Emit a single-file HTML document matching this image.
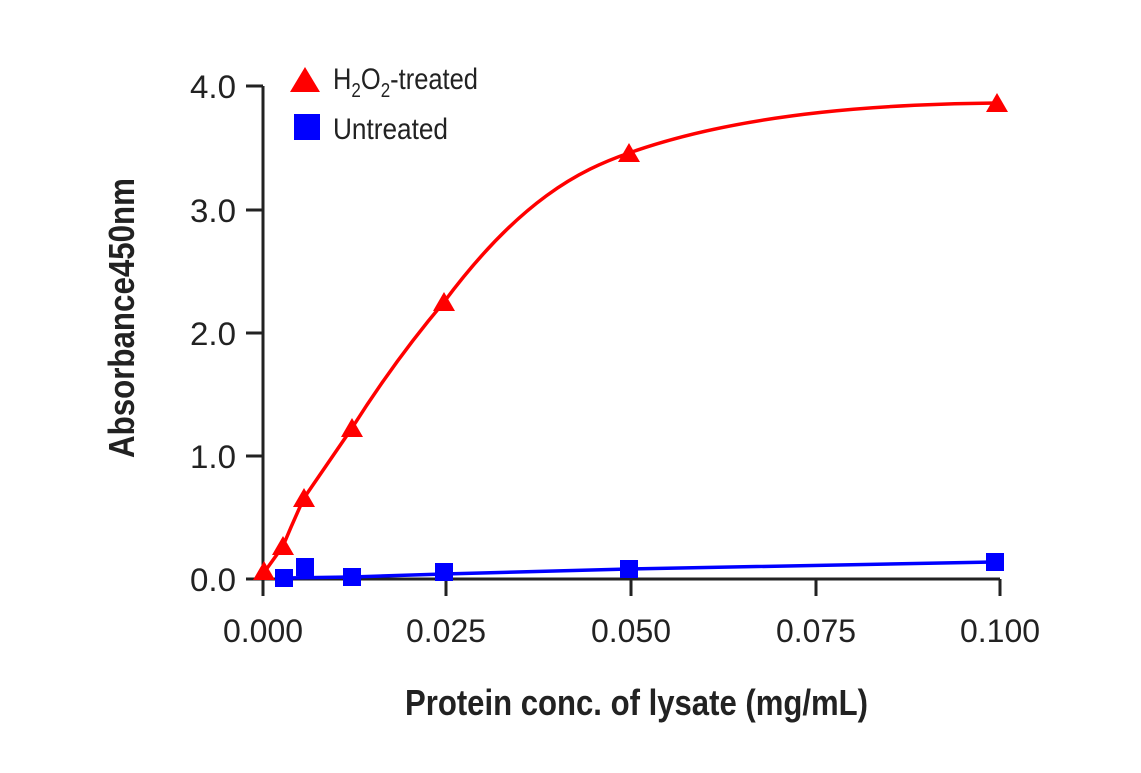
<!DOCTYPE html>
<html><head><style>
body{margin:0;background:#fff;}
svg text{font-family:"Liberation Sans",sans-serif;fill:#222;}
</style></head><body>
<svg width="1141" height="768" viewBox="0 0 1141 768" xmlns="http://www.w3.org/2000/svg">
<g stroke="#222" stroke-width="3" fill="none">
<line x1="263" y1="86" x2="263" y2="596"/>
<line x1="246" y1="579" x2="1000" y2="579"/>
<line x1="246" y1="86" x2="263" y2="86"/>
<line x1="246" y1="210" x2="263" y2="210"/>
<line x1="246" y1="333" x2="263" y2="333"/>
<line x1="246" y1="456" x2="263" y2="456"/>
<line x1="446" y1="579" x2="446" y2="596"/>
<line x1="631" y1="579" x2="631" y2="596"/>
<line x1="816" y1="579" x2="816" y2="596"/>
<line x1="1000" y1="579" x2="1000" y2="596"/>
</g>
<g font-size="32">
<text x="190" y="98" textLength="46" lengthAdjust="spacingAndGlyphs">4.0</text>
<text x="190" y="222" textLength="46" lengthAdjust="spacingAndGlyphs">3.0</text>
<text x="190" y="345" textLength="46" lengthAdjust="spacingAndGlyphs">2.0</text>
<text x="190" y="468" textLength="46" lengthAdjust="spacingAndGlyphs">1.0</text>
<text x="190" y="591" textLength="46" lengthAdjust="spacingAndGlyphs">0.0</text>
</g>
<g font-size="32">
<text x="223" y="642" textLength="80" lengthAdjust="spacingAndGlyphs">0.000</text>
<text x="406" y="642" textLength="80" lengthAdjust="spacingAndGlyphs">0.025</text>
<text x="591" y="642" textLength="80" lengthAdjust="spacingAndGlyphs">0.050</text>
<text x="776" y="642" textLength="80" lengthAdjust="spacingAndGlyphs">0.075</text>
<text x="960" y="642" textLength="80" lengthAdjust="spacingAndGlyphs">0.100</text>
</g>
<text x="405" y="715" font-size="36" font-weight="bold" textLength="463" lengthAdjust="spacingAndGlyphs">Protein conc. of lysate (mg/mL)</text>
<text transform="translate(134,458) rotate(-90)" font-size="36" font-weight="bold" textLength="280" lengthAdjust="spacingAndGlyphs">Absorbance450nm</text>
<path d="M263,574 Q273,560 283,546 Q293,522 304,498 Q328,463 352,428 Q395,360 444,302 C520,200 580,170 629,153 C750,110 900,104 997,103" stroke="#f00" stroke-width="3.5" fill="none"/>
<path d="M284,578 L352,577 L444,574 L629,569 L994,562" stroke="#00f" stroke-width="3.5" fill="none"/>
<g fill="#f00">
<polygon points="264,561 275,580 253,580"/>
<polygon points="283,536 294,555 272,555"/>
<polygon points="304,488 315,507 293,507"/>
<polygon points="352,418 363,437 341,437"/>
<polygon points="444,292 455,311 433,311"/>
<polygon points="629,143 640,162 618,162"/>
<polygon points="997,93 1008,112 986,112"/>
<polygon points="305,67 320,92 290,92"/>
</g>
<g fill="#00f">
<rect x="275" y="569" width="18" height="18"/>
<rect x="296" y="558" width="18" height="18"/>
<rect x="343" y="568" width="18" height="18"/>
<rect x="435" y="563" width="18" height="18"/>
<rect x="620" y="560" width="18" height="18"/>
<rect x="986" y="553" width="18" height="18"/>
<rect x="294" y="114" width="26" height="26"/>
</g>
<text x="333" y="89" font-size="30" textLength="145" lengthAdjust="spacingAndGlyphs">H<tspan font-size="20" dy="8">2</tspan><tspan dy="-8">O</tspan><tspan font-size="20" dy="8">2</tspan><tspan dy="-8">-treated</tspan></text>
<text x="333" y="139" font-size="30" textLength="115" lengthAdjust="spacingAndGlyphs">Untreated</text>
</svg>
</body></html>
